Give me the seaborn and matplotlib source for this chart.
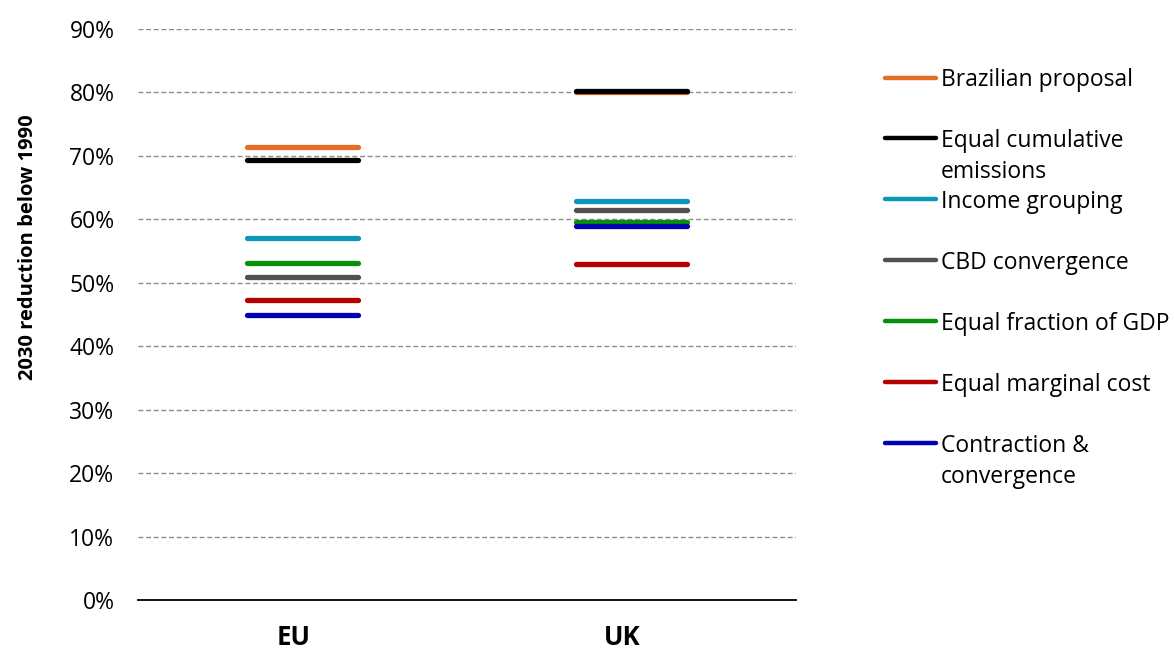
import matplotlib
matplotlib.use("Agg")
import matplotlib.pyplot as plt
from matplotlib.lines import Line2D
from matplotlib.ticker import PercentFormatter
from matplotlib.transforms import ScaledTranslation
import pandas as pd
import seaborn as sns

# Data
regions = ["EU", "UK"]
methods = ["Brazilian proposal", "Equal cumulative\nemissions", "Income grouping",
           "CBD convergence", "Equal fraction of GDP", "Equal marginal cost",
           "Contraction &\nconvergence"]
eu_values = [71.4, 69.3, 57.0, 50.9, 53.1, 47.3, 45.0]
uk_values = [80.0, 80.3, 62.9, 61.5, 59.6, 53.0, 59.0]
colors = ["#E46F24", "#000000", "#0A97BA", "#505050", "#07900C", "#B50000", "#0000B5"]
yticks = [0, 10, 20, 30, 40, 50, 60, 70, 80, 90]

df = pd.DataFrame({"region": regions[0], "method": methods, "value": eu_values})
df = pd.concat([df, pd.DataFrame({"region": regions[1], "method": methods, "value": uk_values})],
               ignore_index=True)

sns.set_theme(style="white")
plt.rcParams["font.family"] = ["Open Sans", "DejaVu Sans"]

fig = plt.figure(figsize=(11.74, 6.53), dpi=100)
ax = fig.add_axes([138 / 1174, 1 - 600 / 653, 658 / 1174, 571 / 653])

half = 0.17
for method, color in zip(methods, colors):
    sub = df[df["method"] == method]
    xpos = [regions.index(r) for r in sub["region"]]
    ax.hlines(sub["value"], [x - half for x in xpos], [x + half for x in xpos],
              color=color, linewidth=3.8, capstyle="round", zorder=3)

ax.set_xlim(-0.5, 1.5)
ax.set_ylim(0, 90)
ax.set_yticks(yticks)
ax.yaxis.set_major_formatter(PercentFormatter(decimals=0))
ax.set_xticks(range(len(regions)))
ax.set_xticklabels(regions, fontsize=18.5, fontweight="bold", color="black")
ax.tick_params(axis="y", labelsize=16.5, length=0, pad=17, labelcolor="black")
ax.tick_params(axis="x", length=0, pad=17)
# category labels sit a little left of the category centre in the original
shift = ScaledTranslation(-9 / 100, 0, fig.dpi_scale_trans)
for lbl in ax.get_xticklabels():
    lbl.set_transform(lbl.get_transform() + shift)
for t in yticks[1:]:
    ax.axhline(t, color="#8c8c8c", linestyle=(0, (3.5, 2)), linewidth=1, zorder=1)
sns.despine(ax=ax, left=True, top=True, right=True)
ax.spines["bottom"].set_color("black")
ax.spines["bottom"].set_linewidth(1.3)
ax.set_ylabel("2030 reduction below 1990", fontsize=14.5, fontweight="bold", color="black")
ax.yaxis.set_label_coords(-0.152, 0.618)
ax.set_xlabel("")

# legend drawn by hand so the swatch sits on the first line of each label
for i, (method, color) in enumerate(zip(methods, colors)):
    ypx = 77.5 + 60.9 * i
    yf = 1 - ypx / 653
    fig.add_artist(Line2D([885 / 1174, 936 / 1174], [yf, yf], color=color,
                          linewidth=3.2, solid_capstyle="round", transform=fig.transFigure))
    fig.text(941 / 1174, yf + 9 / 653, method, fontsize=16.5, va="top", ha="left",
             linespacing=1.38, color="black")

fig.savefig("out.png", dpi=100)
